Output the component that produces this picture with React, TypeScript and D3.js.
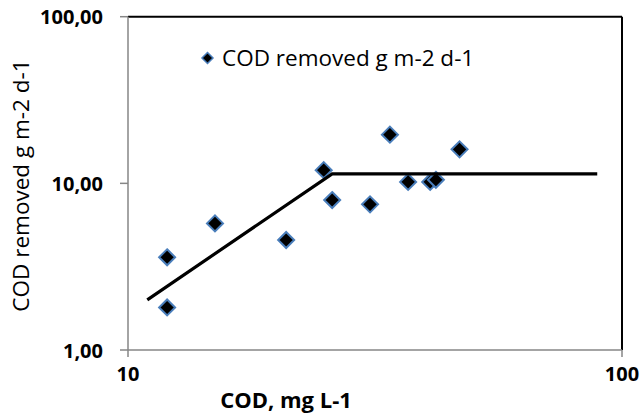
import React from "react";
import * as d3 from "d3";

// Data
const codMgL = [12.0, 12.0, 15.0, 20.9, 24.9, 25.9, 30.9, 33.9, 36.9, 40.9, 42.0, 46.9];
const codRemoved = [3.6, 1.8, 5.75, 4.57, 12.0, 7.94, 7.48, 19.6, 10.2, 10.2, 10.5, 16.0];
const fitX = [10.94, 25.9, 89.1];
const fitY = [2.0, 11.4, 11.4];
const yTicks = [1, 10, 100];
const xTicks = [10, 100];
const legendLabel = "COD removed g m-2 d-1";
const xTitle = "COD, mg L-1";
const yTitle = "COD removed g m-2 d-1";

const W = 640;
const H = 414;
const FONT = "'Open Sans', 'DejaVu Sans', sans-serif";

const diamond = (r: number) => `M0,${-r}L${r},0L0,${r}L${-r},0Z`;

export default function App() {
  const x = d3.scaleLog().domain([10, 100]).range([128, 622]);
  const y = d3.scaleLog().domain([1, 100]).range([350, 16.7]);
  const line = d3
    .line<number>()
    .x((_, i) => x(fitX[i]))
    .y((d) => y(d));
  const fmt = (v: number) => v.toFixed(2).replace(".", ",");
  const [x0, x1] = x.range();
  const [yb, yt] = y.range();

  return (
    <svg
      width={W}
      height={H}
      style={{ position: "absolute", left: 0, top: 0, background: "#fff" }}
      fontFamily={FONT}
    >
      <rect x={0} y={0} width={W} height={H} fill="#fff" />
      {/* top and right border */}
      <line x1={x0} x2={x1} y1={yt} y2={yt} stroke="#000" strokeWidth={2} />
      <line x1={x1} x2={x1} y1={yt} y2={yb} stroke="#000" strokeWidth={2} />
      {/* axes */}
      <line x1={x0} x2={x0} y1={yt} y2={yb} stroke="#868686" strokeWidth={1.5} />
      <line x1={x0} x2={x1} y1={yb} y2={yb} stroke="#868686" strokeWidth={1.5} />
      {yTicks.map((t) => (
        <g key={"y" + t}>
          <line x1={x0 - 8} x2={x0} y1={y(t)} y2={y(t)} stroke="#868686" strokeWidth={1.5} />
          <text
            x={103}
            y={y(t)}
            textAnchor="end"
            dominantBaseline="central"
            fontSize={20}
            fontWeight="bold"
            fill="#000"
          >
            {fmt(t)}
          </text>
        </g>
      ))}
      {xTicks.map((t) => (
        <g key={"x" + t}>
          <line x1={x(t)} x2={x(t)} y1={yb} y2={yb + 7} stroke="#868686" strokeWidth={1.5} />
          <text
            x={x(t)}
            y={373}
            textAnchor="middle"
            dominantBaseline="central"
            fontSize={20}
            fontWeight="bold"
            fill="#000"
          >
            {t}
          </text>
        </g>
      ))}
      {/* axis titles */}
      <text x={286} y={407.5} textAnchor="middle" fontSize={22} fontWeight="bold" fill="#000">
        {xTitle}
      </text>
      <text
        transform={`translate(28.5, ${185.5}) rotate(-90)`}
        textAnchor="middle"
        fontSize={22.5}
        fill="#000"
      >
        {yTitle}
      </text>
      {/* markers */}
      {codMgL.map((c, i) => (
        <path
          key={i}
          d={diamond(8)}
          transform={`translate(${x(c)},${y(codRemoved[i])})`}
          fill="#000"
          stroke="#4a7ebb"
          strokeWidth={2}
        />
      ))}
      {/* fitted line */}
      <path d={line(fitY) || ""} fill="none" stroke="#000" strokeWidth={3.2} />
      {/* legend */}
      <path d={diamond(5.5)} transform="translate(207.5,58)" fill="#000" stroke="#4a7ebb" strokeWidth={1.5} />
      <text x={222} y={66} fontSize={22.5} fill="#000">
        {legendLabel}
      </text>
    </svg>
  );
}
